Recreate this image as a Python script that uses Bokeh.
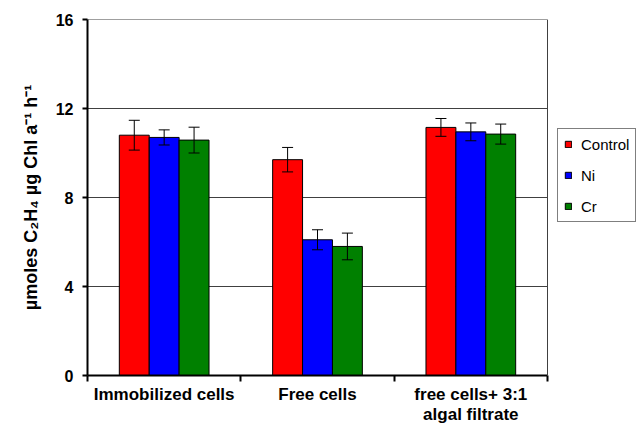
from bokeh.plotting import figure
from bokeh.models import (ColumnDataSource, Whisker, TeeHead, FixedTicker,
                          Legend, LegendItem, Range1d, Span)
from bokeh.embed import file_html
from bokeh.resources import INLINE

categories = ["Immobilized cells", "Free cells", "free cells+ 3:1\nalgal filtrate"]
series = ["Control", "Ni", "Cr"]
control = [10.8, 9.7, 11.15]
ni = [10.7, 6.1, 10.95]
cr = [10.58, 5.8, 10.85]
control_err = [0.67, 0.55, 0.4]
ni_err = [0.34, 0.45, 0.4]
cr_err = [0.58, 0.6, 0.45]
colors = ["#FF0000", "#0000FF", "#008000"]
y_ticks = [0, 4, 8, 12, 16]

values = [control, ni, cr]
errors = [control_err, ni_err, cr_err]

FONT = "Liberation Sans"
bar_w = 0.195
n = len(categories)
# frame is 550 px wide; the plotting box (0..n) occupies 460 px of it,
# the rest on the right holds the legend
x_end = n * 550 / 460

p = figure(width=637, height=427, output_backend="svg", toolbar_location=None,
           x_range=Range1d(0, x_end), y_range=Range1d(0, 16),
           min_border_left=87, min_border_top=19, min_border_bottom=52,
           min_border_right=0)
p.background_fill_color = "white"
p.border_fill_color = "white"
p.outline_line_color = None

# horizontal grid lines limited to the plotting box
grid_y = y_ticks[1:]
p.segment(x0=[0] * len(grid_y), x1=[n] * len(grid_y), y0=grid_y, y1=grid_y,
          line_color="#404040", line_width=1)

items = []
whiskers = []
for j, (name, vals, errs, col) in enumerate(zip(series, values, errors, colors)):
    off = (j - 1) * bar_w
    xs = [i + 0.5 + off for i in range(n)]
    src = ColumnDataSource(dict(x=xs, top=vals,
                                upper=[v + e for v, e in zip(vals, errs)],
                                lower=[v - e for v, e in zip(vals, errs)]))
    r = p.vbar(x="x", top="top", width=bar_w, bottom=0, source=src,
               fill_color=col, line_color="black", line_width=1)
    w = Whisker(base="x", upper="upper", lower="lower", source=src,
                level="overlay", line_color="black", line_width=1,
                upper_head=TeeHead(size=11, line_color="black", line_width=1),
                lower_head=TeeHead(size=11, line_color="black", line_width=1))
    whiskers.append(w)
    items.append(LegendItem(label=name, renderers=[r]))

# right border of the plotting box
p.add_layout(Span(location=n, dimension="height", line_color="#404040",
                  line_width=1))
for w in whiskers:
    p.add_layout(w)

# axes
p.xaxis.ticker = FixedTicker(ticks=[i + 0.5 for i in range(n)],
                             minor_ticks=list(range(n + 1)))
p.xaxis.bounds = (0, n)
p.xaxis.major_label_overrides = {i + 0.5: c for i, c in enumerate(categories)}
p.xaxis.major_tick_out = 0
p.xaxis.major_tick_in = 0
p.xaxis.minor_tick_out = 6
p.xaxis.minor_tick_in = 0
p.xaxis.major_label_standoff = 3
p.xaxis.major_label_text_font = FONT
p.xaxis.major_label_text_font_style = "bold"
p.xaxis.major_label_text_font_size = "17px"
p.xaxis.major_label_text_line_height = 1.1
p.xaxis.major_label_text_color = "black"
p.xaxis.axis_line_width = 2
p.xaxis.axis_line_color = "black"
p.xaxis.minor_tick_line_color = "black"
p.xaxis.minor_tick_line_width = 2

p.yaxis.ticker = FixedTicker(ticks=y_ticks)
p.yaxis.minor_tick_line_color = None
p.yaxis.major_tick_out = 5
p.yaxis.major_tick_in = 0
p.yaxis.major_tick_line_width = 2
p.yaxis.major_tick_line_color = "black"
p.yaxis.major_label_standoff = 9
p.yaxis.major_label_text_font = FONT
p.yaxis.major_label_text_font_style = "bold"
p.yaxis.major_label_text_font_size = "16px"
p.yaxis.major_label_text_color = "black"
p.yaxis.axis_line_width = 2
p.yaxis.axis_line_color = "black"
p.yaxis.axis_label = "µmoles C₂H₄ µg Chl a⁻¹ h⁻¹"
p.yaxis.axis_label_text_font = FONT
p.yaxis.axis_label_text_font_style = "bold"
p.yaxis.axis_label_text_font_size = "18px"
p.yaxis.axis_label_text_color = "black"
p.yaxis.axis_label_standoff = 12

p.xgrid.grid_line_color = None
p.ygrid.grid_line_color = None

legend = Legend(items=items, location=(470, 153), margin=0, padding=6,
                spacing=13, label_height=18, glyph_width=8, glyph_height=8,
                label_standoff=9, border_line_color="black", border_line_width=1,
                label_text_font=FONT, label_text_font_size="15px",
                label_text_color="black", background_fill_color="white")
p.add_layout(legend, "center")

open("out.html", "w").write(file_html(p, INLINE))
